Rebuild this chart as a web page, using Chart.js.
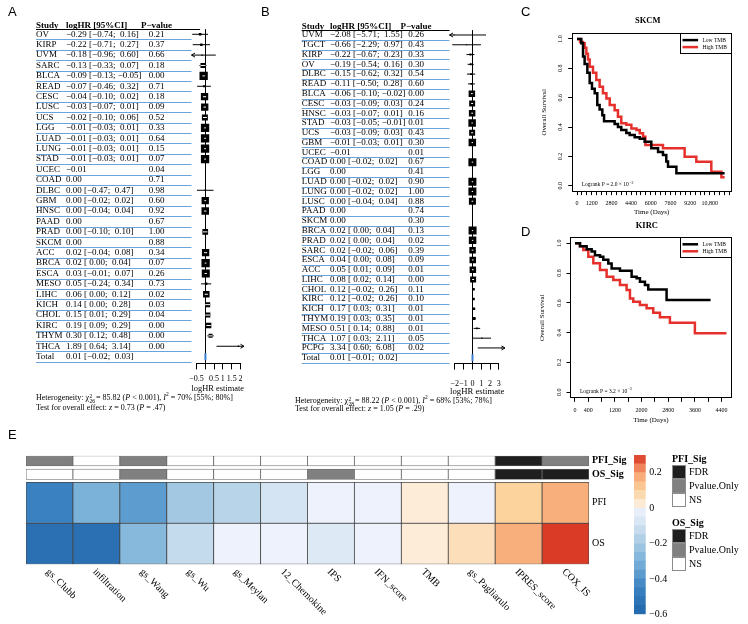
<!DOCTYPE html>
<html>
<head>
<meta charset="utf-8">
<title>TMB prognostic panels</title>
<script src="https://cdn.jsdelivr.net/npm/chart.js@4.4.1/dist/chart.umd.min.js"></script>
<style>
  body { margin: 0; background: #fff; }
  #page { position: relative; width: 748px; height: 624px; overflow: hidden; font-family: "Liberation Serif", "Times New Roman", serif; color: #000; }
  canvas { position: absolute; }
  .tag { position: absolute; font: 13px/13px "Liberation Sans", Arial, sans-serif; }
  .note { position: absolute; font-size: 8px; line-height: 10px; white-space: nowrap; }
  .stack { display: inline-block; vertical-align: -3px; font-size: 5.5px; line-height: 5px; margin: 0 1px 0 0.5px; }
  .note sup { font-size: 5.5px; line-height: 0; }
  .sig { position: absolute; font-size: 10px; }
  .sig b { display: block; height: 13px; line-height: 13px; }
  .sig div { position: relative; height: 14px; line-height: 14px; padding-left: 17px; }
  .sig i { position: absolute; left: 0; top: 0; width: 14px; height: 14px; box-sizing: border-box; border: 1px solid #8c8c8c; }
</style>
</head>
<body>
<div id="page">
  <canvas id="forestA" width="250" height="420" style="left:0;top:0"></canvas>
  <canvas id="forestB" width="262" height="420" style="left:250px;top:0"></canvas>
  <canvas id="kmC" width="228" height="210" style="left:520px;top:12px"></canvas>
  <canvas id="kmD" width="228" height="215" style="left:520px;top:215px"></canvas>
  <canvas id="heatE" width="630" height="194" style="left:0;top:430px"></canvas>
  <canvas id="barE" width="70" height="184" style="left:630px;top:440px"></canvas>

  <div class="tag" style="left:8px;top:5px">A</div>
  <div class="tag" style="left:261px;top:5px">B</div>
  <div class="tag" style="left:521px;top:5px">C</div>
  <div class="tag" style="left:521px;top:225px">D</div>
  <div class="tag" style="left:8px;top:428px">E</div>

  <div class="note" style="left:36px;top:393px">Heterogeneity: χ<span class="stack">2<br>26</span>= 85.82 (<i>P</i> &lt; 0.001), <i>I</i><sup>2</sup> = 70% [55%; 80%]</div>
  <div class="note" style="left:36px;top:403px">Test for overall effect: <i>z</i> = 0.73 (<i>P</i> = .47)</div>
  <div class="note" style="left:295px;top:395.5px">Heterogeneity: χ<span class="stack">2<br>28</span>= 88.22 (<i>P</i> &lt; 0.001), <i>I</i><sup>2</sup> = 68% [53%; 78%]</div>
  <div class="note" style="left:295px;top:404px">Test for overall effect: <i>z</i> = 1.05 (<i>P</i> = .29)</div>

  <div id="sigPFI" class="sig" style="left:672px;top:452px"></div>
  <div id="sigOS" class="sig" style="left:672px;top:516px"></div>
</div>

<script>
// ---- panel A: TMB vs OS, per cancer type ----
const studyA = ["OV","KIRP","UVM","SARC","BLCA","READ","CESC","LUSC","UCS","LGG","LUAD","LUNG","STAD","UCEC","COAD","DLBC","GBM","HNSC","PAAD","PRAD","SKCM","ACC","BRCA","ESCA","MESO","LIHC","KICH","CHOL","KIRC","THYM","THCA"];
const estA = [-0.29,-0.22,-0.18,-0.13,-0.09,-0.07,-0.04,-0.03,-0.02,-0.01,-0.01,-0.01,-0.01,-0.01,0.00,0.00,0.00,0.00,0.00,0.00,0.00,0.02,0.02,0.03,0.05,0.06,0.14,0.15,0.19,0.30,1.89];
const loA = [-0.74,-0.71,-0.96,-0.33,-0.13,-0.46,-0.10,-0.07,-0.10,-0.03,-0.03,-0.03,-0.03,null,null,-0.47,-0.02,-0.04,null,-0.10,null,-0.04,0.00,-0.01,-0.24,0.00,0.00,0.01,0.09,0.12,0.64];
const hiA = [0.16,0.27,0.60,0.07,-0.05,0.32,0.02,0.01,0.06,0.01,0.01,0.01,0.01,null,null,0.47,0.02,0.04,null,0.10,null,0.08,0.04,0.07,0.34,0.12,0.28,0.29,0.29,0.48,3.14];
const pA = [0.21,0.37,0.66,0.18,0.00,0.71,0.18,0.09,0.52,0.33,0.64,0.15,0.07,0.04,0.71,0.98,0.60,0.92,0.67,1.00,0.88,0.34,0.07,0.26,0.73,0.02,0.03,0.04,0.00,0.00,0.00];
const weightA = [10,9,3,36,100,6,78,78,52,100,100,100,100,0,0,3,78,82,0,47,0,78,100,93,9,61,36,36,44,23,3];
const totalA = [0.01,-0.02,0.03];

// ---- panel B: TMB vs PFI ----
const studyB = ["UVM","TGCT","KIRP","OV","DLBC","READ","BLCA","CESC","HNSC","STAD","UCS","GBM","UCEC","COAD","LGG","LUAD","LUNG","LUSC","PAAD","SKCM","BRCA","PRAD","SARC","ESCA","ACC","LIHC","CHOL","KIRC","KICH","THYM","MESO","THCA","PCPG"];
const estB = [-2.08,-0.66,-0.22,-0.19,-0.15,-0.11,-0.06,-0.03,-0.03,-0.03,-0.03,-0.01,-0.01,0.00,0.00,0.00,0.00,0.00,0.00,0.00,0.02,0.02,0.02,0.04,0.05,0.08,0.12,0.12,0.17,0.19,0.51,1.07,3.34];
const loB = [-5.71,-2.29,-0.67,-0.54,-0.62,-0.50,-0.10,-0.09,-0.07,-0.05,-0.09,-0.03,null,-0.02,null,-0.02,-0.02,-0.04,null,null,0.00,0.00,-0.02,0.00,0.01,0.02,-0.02,-0.02,0.03,0.03,0.14,0.03,0.60];
const hiB = [1.55,0.97,0.23,0.16,0.32,0.28,-0.02,0.03,0.01,-0.01,0.03,0.01,null,0.02,null,0.02,0.02,0.04,null,null,0.04,0.04,0.06,0.08,0.09,0.14,0.26,0.26,0.31,0.35,0.88,2.11,6.08];
const pB = [0.26,0.43,0.33,0.30,0.54,0.60,0.00,0.24,0.16,0.01,0.43,0.30,0.01,0.67,0.41,0.90,1.00,0.88,0.74,0.30,0.13,0.02,0.39,0.09,0.01,0.00,0.11,0.10,0.01,0.01,0.01,0.05,0.02];
const weightB = [2,2,6,6,6,6,66,56,66,88,56,88,0,100,0,100,100,77,0,0,100,88,66,66,66,56,10,10,10,14,4,2,2];
const totalB = [0.01,-0.01,0.02];

// ---- panel C: SKCM survival ----
const timeLowC = [0,350,490,620,840,1030,1220,1440,1650,1840,2060,2200,3060,3330,3600,4010,4280,4690,5100,5500,6040,6590,6990,7260,7400,8080,12000];
const survLowC = [1.0,0.97,0.88,0.83,0.77,0.70,0.66,0.63,0.55,0.52,0.48,0.44,0.42,0.40,0.38,0.36,0.345,0.33,0.32,0.30,0.255,0.23,0.21,0.165,0.13,0.085,0.085];
const timeHighC = [0,250,490,620,760,890,1030,1300,1570,1840,2110,2390,2660,3060,3330,3600,4010,4420,4830,5100,5370,5560,6990,8750,9700,10920,11740,12000];
const survHighC = [1.0,0.98,0.97,0.94,0.90,0.86,0.81,0.77,0.72,0.675,0.63,0.595,0.55,0.515,0.47,0.425,0.415,0.39,0.38,0.357,0.334,0.277,0.255,0.198,0.164,0.095,0.057,0.057];
const ticksC = [0,400,800,1200,1600,2000,2400,2800,3200,3600,4000,4400,4800,5200,5600,6000,6400,6800,7200,7600,8000,8400,8800,9200,9600,10000,10400,10800,11200,11600,12000,12400];
const labelledC = [0,1200,2800,4400,6000,7600,9200,10800];
const logrankC = [2.0,-2];

// ---- panel D: KIRC survival ----
const timeLowD = [0,150,350,500,600,750,850,1000,1100,1350,1700,1850,1950,2100,2200,2750,4070];
const survLowD = [1.0,0.98,0.96,0.944,0.92,0.91,0.89,0.865,0.83,0.816,0.776,0.765,0.742,0.72,0.69,0.62,0.62];
const timeHighD = [0,150,250,400,550,750,950,1150,1350,1550,1650,1750,1950,2150,2350,2550,2850,3600,4550];
const survHighD = [1.0,0.98,0.955,0.91,0.866,0.82,0.776,0.754,0.72,0.687,0.63,0.608,0.586,0.564,0.534,0.503,0.467,0.396,0.396];
const ticksD = [0,400,800,1200,1600,2000,2400,2800,3200,3600,4000,4400];
const labelledD = [0,400,1200,2000,2800,3600,4400];
const logrankD = [3.2,-3];
const survTicks = [0,0.2,0.4,0.6,0.8,1.0];

// ---- panel E: heatmap ----
const heatCols = ["gs_Clubb","infiltration","gs_Wang","gs_Wu","gs_Meylan","12_Chemokine","IPS","IFN_score","TMB","gs_Pagliarulo","IPRES_score","COX_IS"];
const pfiVals = [-0.46,-0.30,-0.37,-0.21,-0.16,-0.09,-0.01,-0.01,0.02,-0.01,0.10,0.17];
const osVals = [-0.55,-0.55,-0.27,-0.13,-0.01,-0.01,-0.06,-0.01,0.02,0.06,0.17,0.29];
const pfiSig = ["Pvalue.Only","NS","Pvalue.Only","NS","NS","NS","NS","NS","NS","NS","FDR","Pvalue.Only"];
const osSig = ["NS","NS","Pvalue.Only","NS","NS","NS","Pvalue.Only","NS","NS","NS","FDR","FDR"];
const sigLevels = ["FDR","Pvalue.Only","NS"];
const legendTicks = [-0.6,-0.4,-0.2,0,0.2];

Chart.defaults.font.family = '"Liberation Serif", "Times New Roman", serif';
Chart.defaults.color = '#000';
Chart.defaults.animation = false;
Chart.defaults.events = [];
Chart.defaults.plugins.legend.display = false;
Chart.defaults.plugins.tooltip.enabled = false;

const MINUS = '\u2212';
const num = (v, d) => (v < 0 ? MINUS : '') + Math.abs(v).toFixed(d);
const signed = v => (v < 0 ? MINUS : ' ') + Math.abs(v).toFixed(2);
const ciLabel = (e, lo, hi) => lo == null ? num(e, 2) : num(e, 2) + ' [' + signed(lo) + '; ' + signed(hi) + ']';
const sigFill = { "FDR": '#1f1f1f', "Pvalue.Only": '#808080', "NS": '#ffffff' };

// colour ramp used by the heatmap cells and its colour key
const heatStops = [[-0.6,[33,102,172]],[-0.45,[59,131,193]],[-0.3,[122,178,218]],[-0.2,[166,202,227]],[-0.1,[209,226,241]],[-0.01,[238,242,252]],[0.01,[253,239,223]],[0.1,[252,210,157]],[0.2,[248,160,110]],[0.3,[215,48,31]]];
function heatColor(v) {
  if (v <= heatStops[0][0]) return 'rgb(' + heatStops[0][1].join(',') + ')';
  for (let k = 1; k < heatStops.length; k++) {
    const [v1, c1] = heatStops[k], [v0, c0] = heatStops[k - 1];
    if (v <= v1) {
      const t = (v - v0) / (v1 - v0);
      return 'rgb(' + c0.map((c, j) => Math.round(c + (c1[j] - c) * t)).join(',') + ')';
    }
  }
  return 'rgb(' + heatStops[heatStops.length - 1][1].join(',') + ')';
}

function arrow(ctx, xTip, y, dir) {
  ctx.beginPath();
  ctx.moveTo(xTip + dir * 3.5, y - 2);
  ctx.lineTo(xTip, y);
  ctx.lineTo(xTip + dir * 3.5, y + 2);
  ctx.stroke();
}

function rotText(ctx, txt, x, y) {
  ctx.save();
  ctx.translate(x, y);
  ctx.rotate(-Math.PI / 2);
  ctx.fillText(txt, 0, 0);
  ctx.restore();
}

// ---------- forest plots ----------
function drawForest(id, d, lay) {
  const n = d.study.length;
  const rowsCI = [];
  d.study.forEach((s, i) => { if (d.lo[i] != null) rowsCI.push(i); });
  const side = i => lay.maxBox * Math.sqrt(d.weight[i] / 100);
  const boxes = rowsCI.map(i => ({ x: d.est[i], y: i }));
  const lines = [];
  rowsCI.forEach(i => lines.push({ x: d.lo[i], y: i }, { x: d.hi[i], y: i }, { x: null, y: null }));

  const forestPlugin = {
    id: 'forest',
    beforeDatasetsDraw(chart) {
      const { ctx, chartArea: ca, scales: { x } } = chart;
      const x0 = Math.round(x.getPixelForValue(0)) + 0.5;
      ctx.save();
      ctx.strokeStyle = '#000';
      ctx.lineWidth = 1;
      ctx.beginPath(); ctx.moveTo(x0, ca.top); ctx.lineTo(x0, ca.bottom); ctx.stroke();
      ctx.restore();
    },
    afterDatasetsDraw(chart) {
      const { ctx, chartArea: ca, scales: { x, y } } = chart;
      ctx.save();
      rowsCI.forEach(i => {
        const py = y.getPixelForValue(i), px = x.getPixelForValue(d.est[i]), h = side(i) / 2;
        if (side(i) >= 3) {
          // CI drawn in white where it runs through the box
          ctx.save();
          ctx.beginPath(); ctx.rect(px - h, py - h, 2 * h, 2 * h); ctx.clip();
          ctx.strokeStyle = '#fff'; ctx.lineWidth = 1;
          ctx.beginPath(); ctx.moveTo(x.getPixelForValue(d.lo[i]) - 0.5, py); ctx.lineTo(x.getPixelForValue(d.hi[i]) + 0.5, py); ctx.stroke();
          ctx.restore();
        }
        ctx.strokeStyle = '#000'; ctx.lineWidth = 1;
        if (d.lo[i] < lay.xMin) arrow(ctx, ca.left, py, 1);
        if (d.hi[i] > lay.xMax) arrow(ctx, ca.right, py, -1);
      });
      ctx.restore();
    },
    afterDraw(chart) {
      const { ctx, chartArea: ca, scales: { x, y } } = chart;
      ctx.save();
      ctx.fillStyle = '#000';
      ctx.textBaseline = 'middle';
      const yh = y.getPixelForValue(-0.5);
      ctx.font = 'bold 9px "Liberation Serif"';
      ctx.textAlign = 'left';
      ctx.fillText('Study', lay.colStudy, yh - 3.5);
      ctx.fillText('logHR [95%CI]', lay.colEst, yh - 3.5);
      ctx.textAlign = 'center';
      ctx.fillText('P' + MINUS + 'value', lay.colP, yh - 3.5);
      ctx.strokeStyle = '#000';
      ctx.lineWidth = 1;
      const hy = Math.round(yh) + 0.5;
      ctx.beginPath(); ctx.moveTo(lay.colStudy, hy); ctx.lineTo(ca.left + lay.ruleExtra, hy); ctx.stroke();

      ctx.font = '9px "Liberation Serif"';
      for (let i = 0; i <= n; i++) {
        const py = y.getPixelForValue(i);
        const isTotal = i === n;
        ctx.textAlign = 'left';
        ctx.fillText(isTotal ? 'Total' : d.study[i], lay.colStudy, py);
        ctx.fillText(isTotal ? ciLabel(d.total[0], d.total[1], d.total[2]) : ciLabel(d.est[i], d.lo[i], d.hi[i]), lay.colEst, py);
        if (!isTotal) {
          ctx.textAlign = 'center';
          ctx.fillText(d.p[i].toFixed(2), lay.colP, py);
        }
        const ly = Math.round(y.getPixelForValue(i + 0.5)) + 0.5;
        ctx.strokeStyle = '#6aa3dc';
        ctx.beginPath(); ctx.moveTo(lay.colStudy, ly); ctx.lineTo(ca.left, ly); ctx.stroke();
      }
      // axis line spans the tick range only
      const ay = Math.round(ca.bottom) + 0.5;
      ctx.strokeStyle = '#000';
      ctx.beginPath();
      ctx.moveTo(x.getPixelForValue(lay.ticks[0]), ay);
      ctx.lineTo(x.getPixelForValue(lay.ticks[lay.ticks.length - 1]), ay);
      ctx.stroke();
      ctx.restore();
    }
  };

  new Chart(document.getElementById(id), {
    type: 'scatter',
    data: {
      datasets: [
        { data: boxes, pointStyle: 'rect', pointRadius: rowsCI.map(i => side(i) / Math.SQRT2), pointBackgroundColor: '#000', pointBorderWidth: 0 },
        { type: 'line', data: lines, borderColor: '#000', borderWidth: 1, pointRadius: 0, spanGaps: false, fill: false },
        { data: [{ x: d.total[0], y: n }], pointStyle: 'line', pointRotation: 90, pointRadius: 3.5, pointBorderColor: '#3b7fd4', pointBorderWidth: 2 }
      ]
    },
    options: {
      responsive: false,
      layout: { padding: lay.pad },
      scales: {
        x: {
          type: 'linear', min: lay.xMin, max: lay.xMax,
          afterBuildTicks: s => { s.ticks = lay.ticks.map(v => ({ value: v })); },
          afterFit: s => { s.height = lay.axisH; },
          grid: { drawOnChartArea: false, tickLength: 6.5, color: '#000' },
          border: { display: false },
          ticks: {
            font: { size: 8 }, padding: lay.tickPad, maxRotation: 0, autoSkip: false,
            callback: v => lay.hideTick.includes(v) ? '' : (v < 0 ? MINUS : '') + Math.abs(v)
          },
          title: { display: true, text: 'logHR estimate', font: { size: 8.7 }, padding: { top: 0, bottom: 2 } }
        },
        y: { type: 'linear', reverse: true, min: -0.5, max: lay.yMax, display: false }
      }
    },
    plugins: [forestPlugin]
  });
}

drawForest('forestA',
  { study: studyA, est: estA, lo: loA, hi: hiA, p: pA, weight: weightA, total: totalA },
  { colStudy: 36, colEst: 66, colP: 156.5, xMin: -0.78, xMax: 2.2, ticks: [-0.5, 0, 0.5, 1, 1.5, 2], hideTick: [0],
    yMax: 31.6, pad: { left: 191.5, right: 0.4, top: 29.1, bottom: 24.5 }, axisH: 32.6, tickPad: 4.4, maxBox: 8.3, ruleExtra: 8.5 });

drawForest('forestB',
  { study: studyB, est: estB, lo: loB, hi: hiB, p: pB, weight: weightB, total: totalB },
  { colStudy: 51.7, colEst: 80, colP: 166, xMin: -2.6, xMax: 3.7, ticks: [-2, -1, 0, 1, 2, 3], hideTick: [],
    yMax: 33.55, pad: { left: 199.5, right: 7, top: 30.1, bottom: 21.1 }, axisH: 35.8, tickPad: 9.4, maxBox: 8, ruleExtra: 0 });

// ---------- Kaplan-Meier panels ----------
function drawKM(id, cfg, lay) {
  const kmPlugin = {
    id: 'km',
    afterDraw(chart) {
      const { ctx, chartArea: ca, scales: { y } } = chart;
      ctx.save();
      ctx.strokeStyle = '#000';
      ctx.lineWidth = 1;
      const L = Math.round(ca.left) + 0.5, T = Math.round(ca.top) + 0.5, R = Math.round(ca.right) - 0.5, B = Math.round(ca.bottom) - 0.5;
      ctx.strokeRect(L, T, R - L, B - T);

      ctx.fillStyle = '#000';
      ctx.textAlign = 'center';
      ctx.textBaseline = 'middle';
      ctx.font = '6px "Liberation Serif"';
      survTicks.forEach(v => rotText(ctx, v.toFixed(1), ca.left - 11, y.getPixelForValue(v)));
      ctx.font = '7px "Liberation Serif"';
      rotText(ctx, 'Overall Survival', ca.left - 27.5, (ca.top + ca.bottom) / 2);
      ctx.font = 'bold 8.5px "Liberation Serif"';
      ctx.fillText(cfg.title, (ca.left + ca.right) / 2 - 4, ca.top - 12);

      // legend box, top-right inside the plot
      const lx = Math.round(ca.right - 51.4) + 0.5;
      ctx.fillStyle = '#fff';
      ctx.fillRect(lx, T, R - lx, 20);
      ctx.strokeStyle = '#000';
      ctx.lineWidth = 1;
      ctx.strokeRect(lx, T, R - lx, 20);
      ctx.font = '5.5px "Liberation Serif"';
      ctx.textAlign = 'left';
      chart.data.datasets.forEach((ds, i) => {
        const yy = ca.top + 7 + 7 * i;
        ctx.strokeStyle = ds.borderColor;
        ctx.lineWidth = 2.5;
        ctx.beginPath(); ctx.moveTo(lx + 2, yy); ctx.lineTo(lx + 17.6, yy); ctx.stroke();
        ctx.fillStyle = '#000';
        ctx.fillText(ds.label, lx + 22, yy);
      });

      // log-rank annotation
      const txt = 'Logrank P = ' + cfg.p[0].toFixed(1) + ' \u00d7 10';
      const tx = ca.left + 10, ty = ca.bottom - 7;
      ctx.font = '5.5px "Liberation Serif"';
      ctx.fillText(txt, tx, ty);
      const w = ctx.measureText(txt).width;
      ctx.font = '4px "Liberation Serif"';
      ctx.fillText(MINUS + Math.abs(cfg.p[1]), tx + w + 0.3, ty - 2);
      ctx.restore();
    }
  };

  new Chart(document.getElementById(id), {
    type: 'line',
    data: {
      datasets: cfg.curves.map(c => ({
        label: c.label,
        data: c.t.map((t, i) => ({ x: t, y: c.s[i] })),
        borderColor: c.color, borderWidth: 2.5, pointRadius: 0, stepped: true, fill: false
      }))
    },
    options: {
      responsive: false,
      layout: { padding: lay.pad },
      scales: {
        x: {
          type: 'linear', min: lay.xMin, max: lay.xMax,
          afterBuildTicks: s => { s.ticks = cfg.ticks.map(v => ({ value: v })); },
          afterFit: s => { s.height = lay.axisH; },
          grid: { drawOnChartArea: false, tickLength: 3.5, color: '#000' },
          border: { display: false },
          ticks: {
            font: { size: 6 }, padding: lay.tickPad, autoSkip: false, maxRotation: 0,
            callback: v => cfg.labelled.includes(v) ? (v >= 10000 ? v.toLocaleString('en-US') : String(v)) : ''
          },
          title: { display: true, text: 'Time (Days)', font: { size: 7 }, padding: { top: 0, bottom: 2 } }
        },
        y: {
          type: 'linear', min: -0.04, max: 1.04,
          afterBuildTicks: s => { s.ticks = survTicks.map(v => ({ value: v })); },
          afterFit: s => { s.width = 4; },
          grid: { drawOnChartArea: false, tickLength: 3.5, color: '#000' },
          border: { display: false },
          ticks: { display: false }
        }
      }
    },
    plugins: [kmPlugin]
  });
}

drawKM('kmC', {
  title: 'SKCM', p: logrankC, ticks: ticksC, labelled: labelledC,
  curves: [
    { label: 'Low TMB', t: timeLowC, s: survLowC, color: '#000000' },
    { label: 'High TMB', t: timeHighC, s: survHighC, color: '#e5302c' }
  ]
}, { xMin: -431, xMax: 12577, pad: { left: 47.7, right: 16.3, top: 21.1, bottom: 4.1 }, axisH: 26.3, tickPad: 4.6 });

drawKM('kmD', {
  title: 'KIRC', p: logrankD, ticks: ticksD, labelled: labelledD,
  curves: [
    { label: 'Low TMB', t: timeLowD, s: survLowD, color: '#000000' },
    { label: 'High TMB', t: timeHighD, s: survHighD, color: '#e5302c' }
  ]
}, { xMin: -150, xMax: 4705, pad: { left: 46, right: 16.3, top: 22.3, bottom: 3.5 }, axisH: 28.2, tickPad: 5.5 });

// ---------- heatmap ----------
const heatRows = [
  { name: 'OS', span: [0, 1], fill: osVals.map(heatColor), edge: '#474747' },
  { name: 'PFI', span: [1, 2], fill: pfiVals.map(heatColor), edge: '#474747' },
  { name: 'OS_Sig', span: [2.073, 2.324], fill: osSig.map(s => sigFill[s]), edge: '#6a6a6a' },
  { name: 'PFI_Sig', span: [2.398, 2.649], fill: pfiSig.map(s => sigFill[s]), edge: '#6a6a6a' }
];

const heatLabels = {
  id: 'heatLabels',
  afterDraw(chart) {
    const { ctx, chartArea: ca, scales: { x } } = chart;
    ctx.save();
    ctx.font = '10px "Liberation Serif"';
    ctx.fillStyle = '#000';
    ctx.textAlign = 'left';
    ctx.textBaseline = 'middle';
    heatCols.forEach((c, i) => {
      ctx.save();
      ctx.translate(x.getPixelForValue(i) - 2, ca.bottom + 6);
      ctx.rotate(Math.PI / 4);
      ctx.fillText(c, 0, 0);
      ctx.restore();
    });
    ctx.restore();
  }
};

new Chart(document.getElementById('heatE'), {
  type: 'bar',
  data: {
    labels: heatCols,
    datasets: heatRows.map(r => ({
      data: heatCols.map(() => r.span.slice()),
      backgroundColor: r.fill, borderColor: r.edge, borderWidth: 0.8, borderSkipped: false,
      grouped: false, barPercentage: 1, categoryPercentage: 1
    }))
  },
  options: {
    responsive: false,
    layout: { padding: { left: 26, right: 0, top: 25.7, bottom: 59.7 } },
    scales: {
      x: { display: false },
      y: {
        position: 'right', min: 0, max: 2.65,
        afterBuildTicks: s => { s.ticks = heatRows.map(r => ({ value: (r.span[0] + r.span[1]) / 2 })); },
        afterFit: s => { s.width = 41; },
        grid: { display: false, drawTicks: false },
        border: { display: false },
        ticks: {
          padding: 3,
          callback: (v, i) => heatRows[i].name,
          font: ctx => ({ size: 10, weight: ctx.index > 1 ? 'bold' : 'normal' })
        }
      }
    }
  },
  plugins: [heatLabels]
});

// colour key
const bands = [];
for (let k = 0; k < 18; k++) bands.push([-0.6 + k * 0.05, -0.55 + k * 0.05]);
new Chart(document.getElementById('barE'), {
  type: 'bar',
  data: {
    labels: [''],
    datasets: bands.map(b => ({
      data: [b], backgroundColor: heatColor((b[0] + b[1]) / 2), borderWidth: 0,
      grouped: false, barPercentage: 1, categoryPercentage: 1
    }))
  },
  options: {
    responsive: false,
    layout: { padding: { left: 4, right: 0, top: 15, bottom: 9.7 } },
    scales: {
      x: { display: false },
      y: {
        position: 'right', min: -0.6, max: 0.3,
        afterBuildTicks: s => { s.ticks = legendTicks.map(v => ({ value: v })); },
        afterFit: s => { s.width = 54.3; },
        grid: { display: false, drawTicks: false },
        border: { display: false },
        ticks: { padding: 3.5, font: { size: 10 }, callback: v => v === 0 ? '0' : num(v, 1) }
      }
    }
  }
});

// annotation legends
function sigLegend(id, title) {
  let html = '<b>' + title + '</b>';
  sigLevels.forEach(l => { html += '<div><i style="background:' + sigFill[l] + '"></i>' + l + '</div>'; });
  document.getElementById(id).innerHTML = html;
}
sigLegend('sigPFI', 'PFI_Sig');
sigLegend('sigOS', 'OS_Sig');
</script>
</body>
</html>
